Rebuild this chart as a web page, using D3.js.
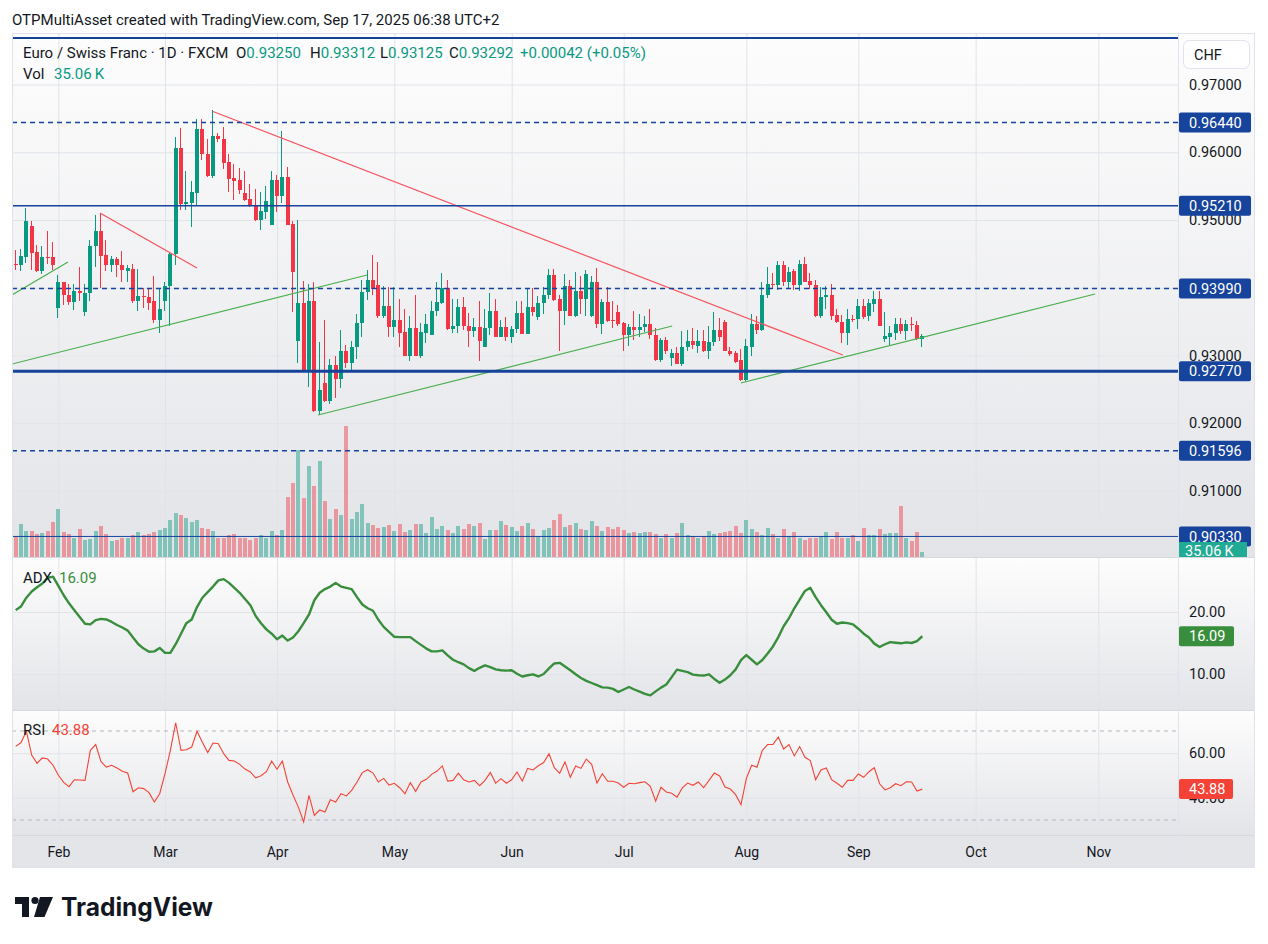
<!DOCTYPE html>
<html>
<head>
<meta charset="utf-8">
<script src="https://cdn.jsdelivr.net/npm/d3@7"></script>
<style>
  body { margin: 0; background: #ffffff; }
  #chart { width: 1268px; height: 944px; }
</style>
</head>
<body>
<div id="chart"></div>
<script>
// ---------- data ----------
const startDay = new Date(2025, 0, 22); // first daily bar on screen

const opens = [
  .9435,.9434,.9446,.9491,.9453,.9425,.9446,.9446,.9370,.9408,
  .9390,.9379,.9395,.9364,.9393,.9461,.9484,.9448,.9434,.9442,
  .9434,.9425,.9428,.9380,.9388,.9386,.9380,.9353,.9381,.9402,
  .9450,.9606,.9523,.9525,.9540,.9635,.9597,.9565,.9624,.9619,
  .9585,.9562,.9559,.9540,.9531,.9522,.9500,.9512,.9493,.9559,
  .9535,.9563,.9494,.9321,.9377,.9279,.9381,.9218,.9259,.9233,
  .9286,.9265,.9306,.9289,.9312,.9348,.9394,.9411,.9404,.9358,
  .9373,.9342,.9352,.9335,.9300,.9341,.9300,.9334,.9331,.9366,
  .9377,.9399,.9339,.9343,.9371,.9344,.9336,.9342,.9313,.9341,
  .9366,.9328,.9342,.9327,.9339,.9363,.9332,.9372,.9357,.9377,
  .9389,.9419,.9383,.9366,.9403,.9359,.9395,.9384,.9359,.9408,
  .9346,.9379,.9352,.9364,.9348,.9330,.9342,.9338,.9342,.9347,
  .9331,.9293,.9323,.9296,.9304,.9288,.9313,.9321,.9314,.9322,
  .9306,.9320,.9338,.9350,.9307,.9304,.9293,.9264,.9313,.9346,
  .9338,.9389,.9405,.9404,.9434,.9408,.9425,.9404,.9435,.9410,
  .9404,.9358,.9387,.9390,.9360,.9350,.9334,.9354,.9354,.9373,
  .9358,.9376,.9384,.9324,.9328,.9334,.9346,.9336,.9346,.9345,
  .93250
];
const highs = [
  .9456,.9457,.9518,.9499,.9463,.9461,.9484,.9468,.9419,.9409,
  .9405,.9405,.9430,.9405,.9470,.9507,.9511,.9471,.9447,.9446,
  .9454,.9434,.9435,.9428,.9400,.9400,.9417,.9400,.9408,.9453,
  .9623,.9636,.9572,.9557,.9649,.9649,.9620,.9663,.9629,.9637,
  .9597,.9582,.9577,.9572,.9553,.9546,.9542,.9550,.9572,.9566,
  .9631,.9578,.9498,.9500,.9410,.9405,.9409,.9320,.9353,.9295,
  .9300,.9338,.9315,.9322,.9362,.9411,.9427,.9448,.9438,.9402,
  .9401,.9401,.9383,.9369,.9358,.9389,.9348,.9361,.9380,.9409,
  .9422,.9411,.9383,.9383,.9386,.9363,.9355,.9380,.9368,.9392,
  .9384,.9353,.9357,.9343,.9381,.9380,.9399,.9399,.9388,.9401,
  .9428,.9428,.9390,.9421,.9411,.9424,.9418,.9426,.9418,.9429,
  .9384,.9401,.9380,.9375,.9349,.9346,.9366,.9362,.9359,.9368,
  .9341,.9326,.9328,.9309,.9313,.9336,.9337,.9341,.9338,.9338,
  .9344,.9365,.9355,.9352,.9313,.9307,.9309,.9324,.9361,.9359,
  .9409,.9430,.9422,.9439,.9440,.9430,.9428,.9441,.9446,.9422,
  .9412,.9401,.9402,.9405,.9368,.9360,.9368,.9360,.9383,.9383,
  .9384,.9395,.9396,.9364,.9343,.9355,.9355,.9352,.9357,.9351,
  .93312
];
const lows = [
  .9426,.9425,.9437,.9426,.9424,.9421,.9435,.9427,.9356,.9375,
  .9375,.9367,.9380,.9359,.9381,.9431,.9400,.9425,.9424,.9416,
  .9408,.9408,.9377,.9366,.9370,.9367,.9348,.9333,.9366,.9344,
  .9433,.9515,.9515,.9490,.9521,.9588,.9564,.9562,.9615,.9575,
  .9541,.9530,.9538,.9528,.9519,.9498,.9485,.9502,.9493,.9512,
  .9525,.9492,.9364,.9289,.9278,.9254,.9216,.9212,.9232,.9228,
  .9237,.9252,.9282,.9275,.9295,.9328,.9382,.9390,.9356,.9356,
  .9328,.9328,.9312,.9300,.9292,.9299,.9297,.9319,.9330,.9358,
  .9376,.9338,.9333,.9333,.9338,.9313,.9328,.9292,.9313,.9331,
  .9328,.9328,.9321,.9318,.9333,.9332,.9332,.9358,.9353,.9362,
  .9383,.9381,.9307,.9345,.9358,.9357,.9362,.9359,.9357,.9341,
  .9332,.9350,.9341,.9343,.9307,.9314,.9323,.9328,.9335,.9325,
  .9292,.9291,.9303,.9285,.9287,.9284,.9306,.9310,.9304,.9305,
  .9295,.9314,.9322,.9306,.9299,.9289,.9263,.9262,.9299,.9332,
  .9336,.9385,.9398,.9397,.9402,.9400,.9397,.9396,.9408,.9398,
  .9357,.9355,.9369,.9353,.9348,.9319,.9316,.9350,.9339,.9354,
  .9351,.9365,.9343,.9320,.9316,.9323,.9332,.9323,.9336,.9323,
  .93125
];
const closes = [
  .9434,.9447,.9499,.9452,.9425,.9446,.9445,.9433,.9408,.9389,
  .9379,.9395,.9393,.9393,.9462,.9484,.9447,.9434,.9442,.9434,
  .9426,.9429,.9380,.9388,.9386,.9378,.9353,.9368,.9403,.9450,
  .9606,.9523,.9527,.9541,.9635,.9597,.9565,.9624,.9619,.9584,
  .9561,.9558,.9544,.9530,.9521,.9500,.9513,.9528,.9559,.9535,
  .9563,.9493,.9424,.9377,.9279,.9381,.9218,.9249,.9233,.9286,
  .9265,.9306,.9289,.9313,.9348,.9394,.9411,.9398,.9358,.9373,
  .9342,.9352,.9334,.9300,.9341,.9300,.9335,.9347,.9366,.9379,
  .9399,.9339,.9344,.9371,.9343,.9336,.9342,.9322,.9341,.9366,
  .9328,.9342,.9327,.9339,.9363,.9332,.9372,.9364,.9377,.9390,
  .9419,.9382,.9366,.9403,.9359,.9395,.9384,.9420,.9408,.9346,
  .9379,.9351,.9351,.9347,.9330,.9342,.9338,.9342,.9347,.9330,
  .9293,.9323,.9306,.9304,.9288,.9313,.9321,.9315,.9322,.9306,
  .9320,.9338,.9328,.9306,.9303,.9291,.9264,.9314,.9346,.9338,
  .9390,.9405,.9404,.9434,.9408,.9424,.9404,.9435,.9409,.9404,
  .9358,.9387,.9390,.9359,.9349,.9334,.9354,.9353,.9373,.9357,
  .9378,.9384,.9344,.9329,.9334,.9346,.9336,.9346,.9345,.9325,
  .93292
];
// volume in thousands
const volumes = [
  147,231,182,182,161,168,182,245,336,175,
  161,133,196,119,126,182,217,161,112,119,
  133,133,154,175,154,161,175,189,203,259,
  308,294,273,245,259,203,196,182,133,133,
  154,161,133,133,119,133,154,133,182,154,
  189,420,518,749,413,637,497,672,392,266,
  336,294,917,266,315,371,238,224,203,210,
  224,182,231,175,189,231,231,168,280,196,
  217,189,168,217,196,231,217,238,126,189,
  189,252,224,210,182,217,238,196,147,189,
  203,259,301,210,224,238,196,189,252,217,
  182,210,196,210,189,168,175,168,175,175,
  161,133,161,133,168,238,154,147,133,147,
  182,161,168,175,182,217,168,259,196,175,
  154,203,161,133,196,147,175,133,119,133,
  133,147,175,126,175,133,133,154,112,203,
  154,154,196,161,168,168,357,133,112,175,
  35.06
];
const adxValues = [
  20.3,20.9,22.3,23.3,24.0,24.6,25.5,25.7,24.2,22.7,
  21.4,20.3,19.2,18.1,18.0,18.7,18.9,18.8,18.4,17.9,
  17.5,17.0,15.9,14.8,14.1,13.6,13.65,14.2,13.4,13.4,
  14.8,16.5,18.2,18.8,20.8,22.3,23.2,24.1,25.1,25.3,
  24.7,23.9,23.1,22.1,21.1,19.35,18.2,17.2,16.5,15.6,
  16.2,15.4,15.9,16.9,18.2,19.6,21.9,23.1,23.7,24.1,
  24.7,24.1,23.9,23.7,22.4,21.2,20.6,20.2,18.75,17.6,
  16.8,16.0,15.95,15.95,15.95,15.3,14.7,14.1,13.65,13.65,
  13.8,13.0,12.3,11.9,11.55,10.95,10.5,11.0,11.4,11.1,
  10.75,10.6,10.55,10.6,10.05,9.6,9.8,9.95,9.6,10.0,
  10.9,11.7,11.8,11.2,10.6,9.95,9.35,8.9,8.55,8.2,
  7.85,7.8,7.6,7.1,7.5,7.9,7.5,7.15,6.8,6.55,
  7.2,7.8,8.3,9.5,10.7,10.5,10.3,9.9,9.8,9.75,
  9.95,9.2,8.6,9.1,9.8,10.75,12.25,13.05,12.3,11.55,
  12.25,13.3,14.45,15.95,17.7,19.0,20.6,22.0,23.4,23.9,
  22.4,21.1,19.95,18.75,18.1,18.3,18.2,18.0,17.3,16.5,
  15.9,14.9,14.35,14.8,15.15,15.05,14.95,15.1,15.0,15.3,
  16.09
];
const rsiValues = [
  63.1,64.8,69.9,59.2,55.5,57.9,57.4,54.6,50.1,46.9,
  45.0,48.1,48.0,47.8,61.3,63.9,56.2,53.8,54.6,53.4,
  51.9,51.1,42.7,44.5,44.1,42.3,38.1,41.8,50.8,61.3,
  73.7,61.3,61.6,62.8,69.9,64.9,60.3,64.6,64.3,59.8,
  56.8,56.5,55.0,52.9,51.6,48.9,49.9,51.7,56.5,52.8,
  56.5,47.1,41.2,35.8,29.1,41.1,32.1,34.5,33.6,39.1,
  38.1,41.8,40.8,43.3,47.1,51.3,52.6,51.1,47.1,48.7,
  45.7,46.5,44.5,41.8,46.8,42.9,47.1,48.3,50.5,52.0,
  54.3,47.5,47.8,51.1,48.1,47.1,47.8,45.4,47.8,51.4,
  46.6,48.6,46.5,48.1,51.6,47.5,53.2,52.5,54.4,55.8,
  59.8,53.5,51.0,56.1,49.2,54.3,53.2,57.4,55.0,46.6,
  50.8,47.4,47.4,46.6,44.7,46.5,46.3,46.8,47.2,45.1,
  38.5,44.7,42.6,42.0,40.2,44.4,46.6,45.6,47.1,44.5,
  47.8,51.1,49.8,44.8,43.9,41.4,36.9,48.6,54.6,53.7,
  61.3,63.9,64.0,67.3,61.9,63.9,58.8,63.0,58.2,56.7,
  48.1,52.5,53.4,48.1,46.5,44.7,47.8,47.8,50.7,49.2,
  51.7,53.5,46.3,43.5,44.5,46.3,45.4,47.2,47.1,43.0,
  43.88
];

// horizontal levels drawn on the chart
const levelPrices = [0.97687, 0.96440, 0.95210, 0.93990, 0.92770, 0.91596, 0.90330];
// trend lines: [bar index, price] -> [bar index, price]
const greenLines = [
  [[-0.7, 0.92875], [65.9, 0.94189]],
  [[-0.7, 0.93894], [9.8, 0.94381]],
  [[56.7, 0.92122], [123.1, 0.93436]],
  [[136.0, 0.92595], [202.4, 0.93909]]
];
const redLines = [
  [[15.8, 0.95104], [34.0, 0.94292]],
  [[37.0, 0.96602], [155.1, 0.93008]]
];

const priceTicks = [0.97, 0.96, 0.95, 0.94, 0.93, 0.92, 0.91];
const adxTicks = [20, 10];
const rsiTicks = [60, 40];
const rsiBands = [70, 30];

const headerText = "OTPMultiAsset created with TradingView.com, Sep 17, 2025 06:38 UTC+2";
const symbolText = "Euro / Swiss Franc \u00b7 1D \u00b7 FXCM";
const ohlcLabels = ["O", "H", "L", "C"];
const ohlcValues = ["0.93250", "0.93312", "0.93125", "0.93292"];
const changeText = "+0.00042 (+0.05%)";
const volText = "35.06\u2009K";

// ---------- layout & style ----------
const W = 1268, H = 944;
const LEFT = 12, RIGHT = 1178, AXIS_END = 1255;
const MAIN = { top: 33, bottom: 557 };
const ADXP = { top: 557, bottom: 710 };
const RSIP = { top: 710, bottom: 835 };
const TIME = { top: 835, bottom: 868 };

const FONT = "Roboto, 'Noto Sans', 'DejaVu Sans', sans-serif";
const FS = 15;        // legend / header size
const AXIS_FS = 14.5; // scale labels
const TEXT = "#131722";
const UP = "#089981", DOWN = "#f23645";
const LEVEL = "#16439c";
const GRID = "#e1e3e9";
const ADX_C = "#388e3c", RSI_C = "#f44336";

// per level: width, dash, show label
const levelStyle = [
  { w: 2.2, dash: null, label: false },
  { w: 1.5, dash: "5,4", label: true },
  { w: 1.5, dash: null, label: true },
  { w: 1.5, dash: "5,4", label: true },
  { w: 3, dash: null, label: true },
  { w: 1.5, dash: "5,4", label: true },
  { w: 1, dash: null, label: true }
];

// trading days (weekdays) from the first bar
const days = [];
{
  const d = new Date(startDay);
  while (days.length < 220) {
    const wd = d.getDay();
    if (wd !== 0 && wd !== 6) days.push(new Date(d));
    d.setDate(d.getDate() + 1);
  }
}
const monthIdx = days.map((d, i) => i).filter(i => i > 0 && days[i].getMonth() !== days[i - 1].getMonth());
const monthFmt = d3.timeFormat("%b");

// ---------- scales ----------
const x = d3.scaleLinear().domain([0, 170]).range([15.7, 922.3]);
const y = d3.scaleLinear().domain([0.92, 0.96]).range([423.3, 152.3]);
const yVol = d3.scaleLinear().domain([0, d3.max(volumes)]).range([MAIN.bottom, 426]);
const yAdx = d3.scaleLinear().domain([10, 20]).range([674, 612]);
const yRsi = d3.scaleLinear().domain([30, 70]).range([820, 731]);

const svg = d3.select("#chart").append("svg")
  .attr("width", W).attr("height", H)
  .style("font-family", FONT);

const defs = svg.append("defs");
const grad = defs.append("linearGradient").attr("id", "paneBg")
  .attr("x1", 0).attr("y1", 0).attr("x2", 0).attr("y2", 1);
grad.append("stop").attr("offset", "0%").attr("stop-color", "#fdfdfd");
grad.append("stop").attr("offset", "100%").attr("stop-color", "#e3e4e8");

function clip(id, pane) {
  defs.append("clipPath").attr("id", id).append("rect")
    .attr("x", LEFT).attr("y", pane.top)
    .attr("width", RIGHT - LEFT).attr("height", pane.bottom - pane.top);
}
clip("clipMain", MAIN);
clip("clipAdx", ADXP);
clip("clipRsi", RSIP);

// header
svg.append("text")
  .attr("x", 12).attr("y", 25)
  .attr("font-size", FS).attr("fill", TEXT)
  .text(headerText);

// pane backgrounds
[MAIN, ADXP, RSIP].forEach(p => {
  svg.append("rect")
    .attr("x", LEFT).attr("y", p.top)
    .attr("width", AXIS_END - LEFT).attr("height", p.bottom - p.top)
    .attr("fill", "url(#paneBg)");
});
svg.append("rect")
  .attr("x", LEFT).attr("y", TIME.top)
  .attr("width", AXIS_END - LEFT).attr("height", TIME.bottom - TIME.top)
  .attr("fill", "#e4e5e9");

// ---------- grids ----------
function vGrid(p) {
  svg.append("g")
    .attr("transform", `translate(0, ${p.bottom})`)
    .call(d3.axisBottom(x).tickValues(monthIdx).tickSize(-(p.bottom - p.top)).tickFormat(""))
    .call(g => g.select(".domain").remove())
    .selectAll("line").attr("stroke", GRID);
}
function hGrid(scale, ticks) {
  svg.append("g")
    .attr("transform", `translate(${LEFT}, 0)`)
    .call(d3.axisLeft(scale).tickValues(ticks).tickSize(-(RIGHT - LEFT)).tickFormat(""))
    .call(g => g.select(".domain").remove())
    .selectAll("line").attr("stroke", GRID);
}
[MAIN, ADXP, RSIP].forEach(vGrid);
hGrid(y, priceTicks);
hGrid(yAdx, adxTicks);
hGrid(yRsi, rsiTicks);

// ---------- main pane ----------
const bars = opens.map((o, i) => ({ i, o, h: highs[i], l: lows[i], c: closes[i], v: volumes[i] }));
const isUp = d => d.c >= d.o;

const mainG = svg.append("g").attr("clip-path", "url(#clipMain)");

// volume
mainG.append("g").attr("shape-rendering", "crispEdges")
  .selectAll("rect").data(bars).join("rect")
  .attr("x", d => Math.round(x(d.i)) - 2)
  .attr("width", 4)
  .attr("y", d => yVol(d.v))
  .attr("height", d => MAIN.bottom - yVol(d.v))
  .attr("fill", d => isUp(d) ? UP : DOWN)
  .attr("fill-opacity", 0.45);

// candles
const candleG = mainG.append("g").attr("shape-rendering", "crispEdges");
candleG.selectAll("rect.wick").data(bars).join("rect")
  .attr("class", "wick")
  .attr("x", d => Math.round(x(d.i)) - 1)
  .attr("width", 1)
  .attr("y", d => y(d.h))
  .attr("height", d => Math.max(1, y(d.l) - y(d.h)))
  .attr("fill", d => isUp(d) ? UP : DOWN);
candleG.selectAll("rect.body").data(bars).join("rect")
  .attr("class", "body")
  .attr("x", d => Math.round(x(d.i)) - 2.5)
  .attr("width", 4)
  .attr("y", d => y(Math.max(d.o, d.c)))
  .attr("height", d => Math.max(1, Math.abs(y(d.o) - y(d.c))))
  .attr("fill", d => isUp(d) ? UP : DOWN);

// trend lines
const trendPath = seg => `M${x(seg[0][0])},${y(seg[0][1])}L${x(seg[1][0])},${y(seg[1][1])}`;
mainG.selectAll("path.green").data(greenLines).join("path")
  .attr("class", "green")
  .attr("d", trendPath)
  .attr("stroke", "#4caf50").attr("stroke-width", 1.2).attr("fill", "none");
mainG.selectAll("path.red").data(redLines).join("path")
  .attr("class", "red")
  .attr("d", trendPath)
  .attr("stroke", "#f7525f").attr("stroke-width", 1.2).attr("fill", "none");

// horizontal levels
levelPrices.forEach((p, k) => {
  const st = levelStyle[k];
  svg.append("line")
    .attr("x1", LEFT).attr("x2", RIGHT)
    .attr("y1", y(p)).attr("y2", y(p))
    .attr("stroke", LEVEL).attr("stroke-width", st.w)
    .attr("stroke-dasharray", st.dash);
});

// ---------- ADX ----------
svg.append("path")
  .datum(adxValues)
  .attr("clip-path", "url(#clipAdx)")
  .attr("d", d3.line().x((d, i) => x(i)).y(d => yAdx(d)))
  .attr("fill", "none").attr("stroke", ADX_C).attr("stroke-width", 2.4)
  .attr("stroke-linejoin", "round");

// ---------- RSI ----------
rsiBands.forEach(v => {
  svg.append("line")
    .attr("x1", LEFT).attr("x2", RIGHT)
    .attr("y1", yRsi(v)).attr("y2", yRsi(v))
    .attr("stroke", "#b2b5be").attr("stroke-dasharray", "4,4");
});
svg.append("path")
  .datum(rsiValues)
  .attr("clip-path", "url(#clipRsi)")
  .attr("d", d3.line().x((d, i) => x(i)).y(d => yRsi(d)))
  .attr("fill", "none").attr("stroke", RSI_C).attr("stroke-width", 1.1);

// ---------- borders ----------
[MAIN.bottom, ADXP.bottom, RSIP.bottom].forEach(yy => {
  svg.append("line")
    .attr("x1", LEFT).attr("x2", AXIS_END)
    .attr("y1", yy + 0.5).attr("y2", yy + 0.5)
    .attr("stroke", "#d6d8de");
});
svg.append("line")
  .attr("x1", RIGHT + 0.5).attr("x2", RIGHT + 0.5)
  .attr("y1", MAIN.top).attr("y2", TIME.bottom)
  .attr("stroke", "#e0e3eb");
svg.append("rect")
  .attr("x", LEFT + 0.5).attr("y", MAIN.top + 0.5)
  .attr("width", AXIS_END - LEFT - 1).attr("height", TIME.bottom - MAIN.top - 1)
  .attr("fill", "none").attr("stroke", "#e0e3eb");

// ---------- right axes ----------
function rightAxis(scale, ticks, fmt) {
  svg.append("g")
    .attr("transform", `translate(${RIGHT}, 0)`)
    .call(d3.axisRight(scale).tickValues(ticks).tickFormat(fmt).tickSize(0).tickPadding(11))
    .call(g => g.select(".domain").remove())
    .selectAll("text")
    .attr("font-size", AXIS_FS).attr("fill", TEXT).attr("font-family", FONT);
}
rightAxis(y, priceTicks, d3.format(".5f"));
rightAxis(yAdx, adxTicks, d3.format(".2f"));
rightAxis(yRsi, rsiTicks, d3.format(".2f"));

function axisTag(yy, txt, fill, w, h) {
  const hh = h || 20;
  svg.append("rect")
    .attr("x", RIGHT + 1).attr("y", yy - hh / 2)
    .attr("width", w).attr("height", hh).attr("rx", 2)
    .attr("fill", fill);
  svg.append("text")
    .attr("x", RIGHT + 11).attr("y", yy).attr("dy", "0.35em")
    .attr("font-size", AXIS_FS).attr("fill", "#ffffff")
    .text(txt);
}
levelPrices.forEach((p, k) => {
  if (levelStyle[k].label) axisTag(y(p), d3.format(".5f")(p), LEVEL, 72);
});

// volume tag (cut by the pane bottom)
svg.append("rect")
  .attr("x", RIGHT + 1).attr("y", yVol(volumes[volumes.length - 1]) - 10)
  .attr("width", 68).attr("height", MAIN.bottom - yVol(volumes[volumes.length - 1]) + 10)
  .attr("fill", "#22ab94");
svg.append("text")
  .attr("x", RIGHT + 7).attr("y", MAIN.bottom - 1)
  .attr("font-size", AXIS_FS).attr("fill", "#ffffff")
  .text(volText);

axisTag(yAdx(adxValues[adxValues.length - 1]), d3.format(".2f")(adxValues[adxValues.length - 1]), ADX_C, 55);
axisTag(yRsi(rsiValues[rsiValues.length - 1]), d3.format(".2f")(rsiValues[rsiValues.length - 1]), RSI_C, 54);

// currency box
svg.append("rect")
  .attr("x", 1183.5).attr("y", 40.5).attr("width", 66).attr("height", 28).attr("rx", 6)
  .attr("fill", "#ffffff").attr("stroke", "#e0e3eb");
svg.append("text")
  .attr("x", 1194).attr("y", 60)
  .attr("font-size", AXIS_FS).attr("fill", TEXT)
  .text("CHF");

// ---------- time axis ----------
svg.append("g")
  .attr("transform", `translate(0, ${TIME.top})`)
  .call(d3.axisBottom(x).tickValues(monthIdx).tickFormat(i => monthFmt(days[i])).tickSize(0).tickPadding(12))
  .call(g => g.select(".domain").remove())
  .selectAll("text")
  .attr("font-size", 14).attr("fill", TEXT).attr("font-family", FONT);

// ---------- legends ----------
const leg = svg.append("g").attr("font-size", FS);
leg.append("text").attr("x", 23).attr("y", 58).attr("fill", TEXT).text(symbolText);
const ohlcX = [236, 310, 380, 449];
ohlcLabels.forEach((lab, k) => {
  const t = leg.append("text").attr("x", ohlcX[k]).attr("y", 58).attr("fill", TEXT);
  t.append("tspan").text(lab);
  t.append("tspan").attr("fill", UP).text(ohlcValues[k]);
});
leg.append("text").attr("x", 520).attr("y", 58).attr("fill", UP).text(changeText);
leg.append("text").attr("x", 23).attr("y", 79).attr("fill", TEXT).text("Vol");
leg.append("text").attr("x", 54).attr("y", 79).attr("fill", UP).text(volText);

leg.append("text").attr("x", 23).attr("y", 583).attr("fill", TEXT).text("ADX");
leg.append("text").attr("x", 59).attr("y", 583).attr("fill", ADX_C)
  .text(d3.format(".2f")(adxValues[adxValues.length - 1]));
leg.append("text").attr("x", 23).attr("y", 735).attr("fill", TEXT).text("RSI");
leg.append("text").attr("x", 52).attr("y", 735).attr("fill", RSI_C)
  .text(d3.format(".2f")(rsiValues[rsiValues.length - 1]));

// ---------- TradingView mark ----------
const logo = svg.append("g").attr("fill", TEXT);
logo.append("path").attr("d", "M15,897 H29 V917 H22 V904 H15 Z");
logo.append("circle").attr("cx", 35).attr("cy", 900.5).attr("r", 3.6);
logo.append("path").attr("d", "M40,897 H53 L44.5,917 H34 Z");
logo.append("text")
  .attr("x", 61).attr("y", 916)
  .attr("font-size", 25).attr("font-weight", 700)
  .attr("font-family", "Inter, Roboto, sans-serif")
  .attr("textLength", 152).attr("lengthAdjust", "spacingAndGlyphs")
  .text("TradingView");
</script>
</body>
</html>
